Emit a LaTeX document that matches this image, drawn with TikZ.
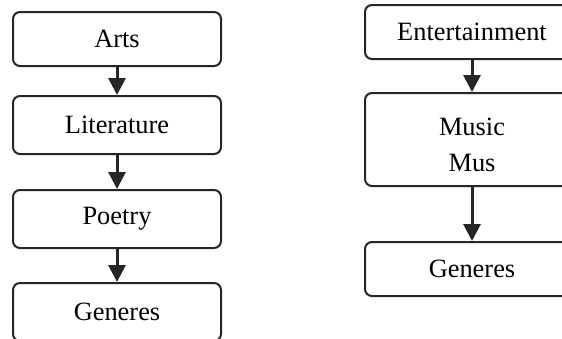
\documentclass[tikz,border=0pt]{standalone}
\usepackage{fontspec}
\setmainfont{Liberation Serif}
\usetikzlibrary{arrows.meta}
\begin{document}
\begin{tikzpicture}[x=0.5pt,y=-0.5pt,
  box/.style={draw=black!85, line width=1pt, rounded corners=3.5pt,
    rectangle, minimum height=#1, inner sep=0pt,
    font=\fontsize{13.2pt}{18pt}\selectfont, align=center},
  leftbox/.style={box=#1, minimum width=104pt},
  rightbox/.style={box=#1, minimum width=107pt},
  arr/.style={draw=black!85, line width=1.5pt,
    -{Triangle[width=8.5pt,length=8.5pt]}}]
  \useasboundingbox (0,0) rectangle (562,338);
  \clip (0,0) rectangle (562,338);
  % left chain
  \node[leftbox=27pt] (arts) at (117,39) {Arts};
  \node[leftbox=29pt] (lit) at (117,125) {Literature};
  \node[leftbox=29pt] (poetry) at (117,219) {Poetry};
  \node[leftbox=29pt] (genl) at (117,312) {Generes};
  \draw[arr] (arts) -- (lit);
  \draw[arr] (lit) -- (poetry);
  \draw[arr] (poetry) -- (genl);
  % right chain
  \node[rightbox=27pt] (ent) at (472,32) {Entertainment};
  \node[rightbox=46.5pt] (music) at (472,139.5) {};
  \node[font=\fontsize{13.2pt}{18pt}\selectfont, align=center] (musictext)
    at (472,145) {Music\\Mus};
  \node[rightbox=27pt] (genr) at (472,269) {Generes};
  \draw[arr] (ent) -- (music);
  \draw[arr] (music) -- (genr);
\end{tikzpicture}
\end{document}
